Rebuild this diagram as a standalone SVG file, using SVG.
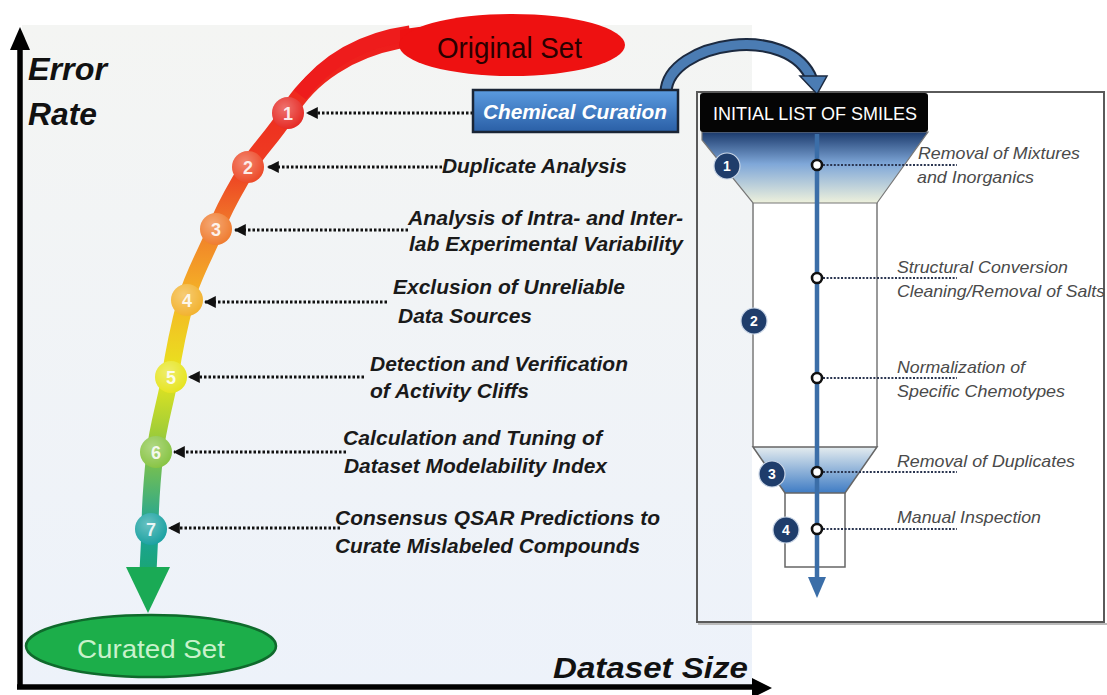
<svg xmlns="http://www.w3.org/2000/svg" width="1107" height="695" viewBox="0 0 1107 695">
<defs>
<linearGradient id="panelG" x1="0" y1="0" x2="0" y2="1">
<stop offset="0" stop-color="#f4f5f3"/><stop offset="1" stop-color="#edf2fa"/>
</linearGradient>
<linearGradient id="curveG" gradientUnits="userSpaceOnUse" x1="0" y1="40" x2="0" y2="600">
<stop offset="0" stop-color="#ee1c1c"/>
<stop offset="0.227" stop-color="#ee3d22"/>
<stop offset="0.33" stop-color="#f07a2a"/>
<stop offset="0.46" stop-color="#f5b526"/>
<stop offset="0.6" stop-color="#e8e61e"/>
<stop offset="0.73" stop-color="#8cc63f"/>
<stop offset="0.875" stop-color="#1ba39a"/>
<stop offset="1" stop-color="#19a85a"/>
</linearGradient>
<linearGradient id="ccG" x1="0" y1="0" x2="0" y2="1">
<stop offset="0" stop-color="#5b9be0"/><stop offset="1" stop-color="#2a5fa6"/>
</linearGradient>
<linearGradient id="funTop" x1="0" y1="0" x2="0" y2="1">
<stop offset="0" stop-color="#1b3a6c"/><stop offset="0.45" stop-color="#7fa7d8"/><stop offset="1" stop-color="#eef1dc"/>
</linearGradient>
<linearGradient id="funBot" x1="0" y1="0" x2="0" y2="1">
<stop offset="0" stop-color="#e4ecef"/><stop offset="1" stop-color="#3f7cc4"/>
</linearGradient>
<radialGradient id="shine" cx="0.4" cy="0.35" r="0.7">
<stop offset="0" stop-color="#ffffff" stop-opacity="0.35"/><stop offset="1" stop-color="#ffffff" stop-opacity="0"/>
</radialGradient>
<marker id="ah" viewBox="0 0 10 10" refX="9" refY="5" markerWidth="4" markerHeight="4" orient="auto-start-reverse" markerUnits="strokeWidth">
<path d="M0 0 L10 5 L0 10 z" fill="#111"/>
</marker>
<style>
.lbl{font-family:"Liberation Sans",Arial,sans-serif;font-weight:bold;font-style:italic;font-size:20px;fill:#1a1a1a}
.rl{font-family:"Liberation Sans",Arial,sans-serif;font-style:italic;font-size:17px;fill:#4a4a4a}
.num{font-family:"Liberation Sans",Arial,sans-serif;font-weight:bold;font-size:18px;fill:#fff;fill-opacity:0.88;text-anchor:middle}
.nn{font-family:"Liberation Sans",Arial,sans-serif;font-weight:bold;font-size:14px;fill:#fff;text-anchor:middle}
.dot{stroke:#111;stroke-width:3;stroke-dasharray:2.5 2;fill:none}
.rdot{stroke:#2a3550;stroke-width:2.2;stroke-dasharray:2 1.6;fill:none}
.ring{fill:#fff;stroke:#111;stroke-width:2.6}
.navy{fill:#1f3d6b;stroke:#c9d5e6;stroke-width:1.2}
</style>
</defs>

<!-- background panel -->
<rect x="22" y="25" width="730" height="661" fill="url(#panelG)"/>

<!-- axes -->
<g id="axes">
<line x1="20" y1="688" x2="20" y2="46" stroke="#000" stroke-width="5.5"/>
<polygon points="20,27 10,50 30,50" fill="#000"/>
<line x1="17" y1="687" x2="756" y2="687" stroke="#000" stroke-width="5.5"/>
<polygon points="772,688 752,678 752,698" fill="#000"/>
<text x="28" y="80" font-family="Liberation Sans, Arial, sans-serif" font-weight="bold" font-style="italic" font-size="31" fill="#111" textLength="79" lengthAdjust="spacingAndGlyphs">Error</text>
<text x="28" y="125" font-family="Liberation Sans, Arial, sans-serif" font-weight="bold" font-style="italic" font-size="31" fill="#111" textLength="69" lengthAdjust="spacingAndGlyphs">Rate</text>
<text x="553" y="678" font-family="Liberation Sans, Arial, sans-serif" font-weight="bold" font-style="italic" font-size="30" fill="#111" textLength="195" lengthAdjust="spacingAndGlyphs">Dataset Size</text>
</g>

<!-- right box -->
<g id="pipeline-box">
<rect x="697" y="92" width="407" height="530" fill="none" stroke="#5a5a5a" stroke-width="2"/>
<line x1="698" y1="624" x2="1107" y2="624" stroke="#bbb" stroke-width="2"/>
</g>

<!-- connectors -->
<g id="connectors">
<path d="M 400 40 C 350 50, 310 75, 288 113 C 270 140, 258 150, 248 167 C 235 190, 225 205, 216 229 C 205 255, 193 275, 186 300 C 178 330, 174 350, 170 377 C 165 405, 158 425, 155 452 C 152 480, 150 505, 150 530 L 148 572" fill="none" stroke="url(#curveG)" stroke-width="17" stroke-linecap="round"/>
<path d="M 410 33 C 360 40, 325 62, 300 95" fill="none" stroke="#ee1c1c" stroke-width="15"/>
<polygon points="126,567 170,567 148,613" fill="#1aaa55"/>
<line class="dot" x1="473" y1="113" x2="307" y2="113" marker-end="url(#ah)"/>
<line class="dot" x1="442" y1="167" x2="268" y2="167" marker-end="url(#ah)"/>
<line class="dot" x1="408" y1="230" x2="235" y2="230" marker-end="url(#ah)"/>
<line class="dot" x1="387" y1="302" x2="205" y2="302" marker-end="url(#ah)"/>
<line class="dot" x1="364" y1="377" x2="189" y2="377" marker-end="url(#ah)"/>
<line class="dot" x1="346" y1="452" x2="174" y2="452" marker-end="url(#ah)"/>
<line class="dot" x1="340" y1="528" x2="169" y2="528" marker-end="url(#ah)"/>
<!-- curved arrow to pipeline -->
<path d="M 666 92 C 668 42, 790 22, 812 80" fill="none" stroke="#1c2a40" stroke-width="13"/>
<path d="M 666 92 C 668 42, 790 22, 812 80" fill="none" stroke="#4b7cb3" stroke-width="9"/>
<polygon points="800,76 827,76 817,94" fill="#4b7cb3" stroke="#1c2a40" stroke-width="1.5"/>
</g>

<!-- Original Set -->
<g id="original-set">
<path d="M 400 30 Q 440 22 460 30 L 460 62 Q 440 68 400 48 Z" fill="#ee1111"/>
<ellipse cx="512" cy="45" rx="113" ry="31" fill="#ee1111"/>
<text x="437" y="58" font-family="Liberation Sans, Arial, sans-serif" font-size="30" fill="#2a0000" textLength="145" lengthAdjust="spacingAndGlyphs">Original Set</text>
</g>

<!-- Chemical Curation -->
<g id="chemical-curation">
<rect x="473" y="90" width="205" height="42" fill="url(#ccG)" stroke="#1a2536" stroke-width="2.5"/>
<text x="483" y="119" font-family="Liberation Sans, Arial, sans-serif" font-weight="bold" font-style="italic" font-size="21" fill="#fff" textLength="184" lengthAdjust="spacingAndGlyphs">Chemical Curation</text>
</g>

<!-- steps -->
<g id="step1"><circle cx="288" cy="113" r="16" fill="#e52620"/><circle cx="288" cy="113" r="16" fill="url(#shine)"/><text class="num" x="288" y="120">1</text></g>
<g id="step2"><circle cx="248" cy="167" r="16" fill="#ec4624"/><circle cx="248" cy="167" r="16" fill="url(#shine)"/><text class="num" x="248" y="174">2</text></g>
<g id="step3"><circle cx="216" cy="229" r="16" fill="#ef7a2c"/><circle cx="216" cy="229" r="16" fill="url(#shine)"/><text class="num" x="216" y="236">3</text></g>
<g id="step4"><circle cx="187" cy="300" r="16" fill="#f2b12c"/><circle cx="187" cy="300" r="16" fill="url(#shine)"/><text class="num" x="187" y="307">4</text></g>
<g id="step5"><circle cx="171" cy="377" r="16" fill="#e6e41d"/><circle cx="171" cy="377" r="16" fill="url(#shine)"/><text class="num" x="171" y="384">5</text></g>
<g id="step6"><circle cx="156" cy="452" r="16" fill="#86c341"/><circle cx="156" cy="452" r="16" fill="url(#shine)"/><text class="num" x="156" y="459">6</text></g>
<g id="step7"><circle cx="151" cy="529" r="16" fill="#17a0a0"/><circle cx="151" cy="529" r="16" fill="url(#shine)"/><text class="num" x="151" y="536">7</text></g>

<g id="label2"><text class="lbl" x="442" y="173" textLength="185" lengthAdjust="spacingAndGlyphs">Duplicate Analysis</text></g>
<g id="label3"><text class="lbl" x="408" y="225" textLength="275" lengthAdjust="spacingAndGlyphs">Analysis of Intra- and Inter-</text>
<text class="lbl" x="409" y="251" textLength="274" lengthAdjust="spacingAndGlyphs">lab Experimental Variability</text></g>
<g id="label4"><text class="lbl" x="393" y="294" textLength="232" lengthAdjust="spacingAndGlyphs">Exclusion of Unreliable</text>
<text class="lbl" x="398" y="323" textLength="134" lengthAdjust="spacingAndGlyphs">Data Sources</text></g>
<g id="label5"><text class="lbl" x="370" y="371" textLength="258" lengthAdjust="spacingAndGlyphs">Detection and Verification</text>
<text class="lbl" x="370" y="398" textLength="159" lengthAdjust="spacingAndGlyphs">of Activity Cliffs</text></g>
<g id="label6"><text class="lbl" x="343" y="445" textLength="259" lengthAdjust="spacingAndGlyphs">Calculation and Tuning of</text>
<text class="lbl" x="344" y="473" textLength="263" lengthAdjust="spacingAndGlyphs">Dataset Modelability Index</text></g>
<g id="label7"><text class="lbl" x="335" y="525" textLength="325" lengthAdjust="spacingAndGlyphs">Consensus QSAR Predictions to</text>
<text class="lbl" x="335" y="553" textLength="305" lengthAdjust="spacingAndGlyphs">Curate Mislabeled Compounds</text></g>

<!-- Curated Set -->
<g id="curated-set">
<ellipse cx="151" cy="646" rx="125" ry="31" fill="#1cae4a" stroke="#0f6a2c" stroke-width="2.5"/>
<text x="77" y="658" font-family="Liberation Sans, Arial, sans-serif" font-size="26" fill="#c9f2cc" textLength="148" lengthAdjust="spacingAndGlyphs">Curated Set</text>
</g>

<!-- funnel -->
<g id="funnel">
<path d="M 702 132 L 928 132 L 877 203 L 753 203 L 702 140 Z" fill="url(#funTop)" stroke="#777" stroke-width="1.2"/>
<line x1="753" y1="203" x2="753" y2="447" stroke="#777" stroke-width="1.5"/>
<line x1="877" y1="203" x2="877" y2="447" stroke="#777" stroke-width="1.5"/>
<path d="M 753 447 L 877 447 L 845 493 L 785 493 Z" fill="url(#funBot)" stroke="#666" stroke-width="1.5"/>
<path d="M 785 493 L 785 567 L 845 567 L 845 493" fill="none" stroke="#666" stroke-width="1.5"/>
<rect x="700" y="93" width="228" height="39" rx="3" fill="#050505"/>
<text x="713" y="120" font-family="Liberation Sans, Arial, sans-serif" font-size="18" fill="#fff" textLength="204" lengthAdjust="spacingAndGlyphs">INITIAL LIST OF SMILES</text>
<line x1="817" y1="134" x2="817" y2="580" stroke="#3b6ea8" stroke-width="4.5"/>
<polygon points="808,577 826,577 817,598" fill="#3b6ea8"/>
</g>

<g id="pipe-connectors">
<line class="rdot" x1="823" y1="165" x2="957" y2="165"/>
<line class="rdot" x1="823" y1="278" x2="957" y2="278"/>
<line class="rdot" x1="823" y1="378" x2="957" y2="378"/>
<line class="rdot" x1="823" y1="472" x2="957" y2="472"/>
<line class="rdot" x1="823" y1="529" x2="957" y2="529"/>
</g>

<g id="p1"><circle class="ring" cx="817" cy="165" r="5"/><text class="rl" x="918" y="159" textLength="162" lengthAdjust="spacingAndGlyphs">Removal of Mixtures</text><text class="rl" x="917" y="183" textLength="117" lengthAdjust="spacingAndGlyphs">and Inorganics</text></g>
<g id="p2"><circle class="ring" cx="817" cy="278" r="5"/><text class="rl" x="897" y="273" textLength="171" lengthAdjust="spacingAndGlyphs">Structural Conversion</text><text class="rl" x="897" y="297" textLength="208" lengthAdjust="spacingAndGlyphs">Cleaning/Removal of Salts</text></g>
<g id="p3"><circle class="ring" cx="817" cy="378" r="5"/><text class="rl" x="897" y="373" textLength="128" lengthAdjust="spacingAndGlyphs">Normalization of</text><text class="rl" x="897" y="397" textLength="168" lengthAdjust="spacingAndGlyphs">Specific Chemotypes</text></g>
<g id="p4"><circle class="ring" cx="817" cy="472" r="5"/><text class="rl" x="897" y="467" textLength="178" lengthAdjust="spacingAndGlyphs">Removal of Duplicates</text></g>
<g id="p5"><circle class="ring" cx="817" cy="529" r="5"/><text class="rl" x="897" y="523" textLength="144" lengthAdjust="spacingAndGlyphs">Manual Inspection</text></g>

<g id="n1"><circle class="navy" cx="727" cy="166" r="13"/><text class="nn" x="727" y="171">1</text></g>
<g id="n2"><circle class="navy" cx="754" cy="321" r="13"/><text class="nn" x="754" y="326">2</text></g>
<g id="n3"><circle class="navy" cx="772" cy="474" r="13"/><text class="nn" x="772" y="479">3</text></g>
<g id="n4"><circle class="navy" cx="786" cy="530" r="13"/><text class="nn" x="786" y="535">4</text></g>
</svg>
